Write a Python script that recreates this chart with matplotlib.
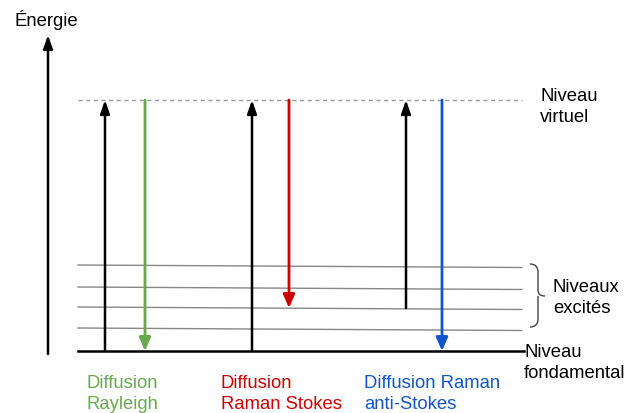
import matplotlib.pyplot as plt
from matplotlib.path import Path
from matplotlib.patches import PathPatch

plt.rcParams['font.family'] = ['Liberation Sans', 'DejaVu Sans']

# energy levels, in picture rows (top = 0)
virtual_level = 101
excited_levels = [267, 289, 309, 330]
ground_level = 352
level_x = (78, 522)

# transitions: (x, start level, end level, colour)
up_arrows = [(105, ground_level, virtual_level),
             (252, ground_level, virtual_level),
             (406, excited_levels[2], virtual_level)]
down_arrows = [(145, virtual_level, ground_level, '#6aa84f'),
               (289, virtual_level, excited_levels[2], '#cc0000'),
               (442, virtual_level, ground_level, '#1155cc')]

bottom_labels = ['Diffusion\nRayleigh', 'Diffusion\nRaman Stokes', 'Diffusion Raman\nanti-Stokes']
bottom_x = [86, 221, 364]
bottom_colors = ['#6aa84f', '#cc0000', '#1155cc']

fs = 13.3
ls = 1.3

fig = plt.figure(figsize=(6.42, 4.14), dpi=100)
ax = fig.add_axes([0, 0, 1, 1])
ax.set_xlim(0, 642)
ax.set_ylim(414, 0)
ax.axis('off')

# energy axis
ax.annotate('', xy=(48, 36), xytext=(48, 355),
            arrowprops=dict(arrowstyle='-|>,head_length=0.8,head_width=0.28',
                            color='black', lw=1.8, shrinkA=0, shrinkB=0))
ax.text(14, 20, 'Énergie', fontsize=fs, va='center', ha='left')

# levels
ax.plot(level_x, [virtual_level] * 2, color='#999999', lw=1, ls=(0, (3, 2.5)))
for y in excited_levels:
    ax.plot(level_x, [y - 1, y + 1.5], color='#888888', lw=1)
ax.plot((level_x[0], 524), [ground_level] * 2, color='black', lw=1.8)

for x, y0, y1 in up_arrows:
    ax.annotate('', xy=(x, y1), xytext=(x, y0),
                arrowprops=dict(arrowstyle='-|>,head_length=0.8,head_width=0.28',
                                color='black', lw=1.8, shrinkA=0, shrinkB=0))
for x, y0, y1, c in down_arrows:
    ax.annotate('', xy=(x, y1), xytext=(x, y0),
                arrowprops=dict(arrowstyle='-|>,head_length=0.8,head_width=0.35',
                                color=c, lw=2, shrinkA=0, shrinkB=0))

# right side labels
ax.text(540, 107, 'Niveau\nvirtuel', fontsize=fs, va='center', ha='left', linespacing=ls)
ax.text(553, 298, 'Niveaux\nexcités', fontsize=fs, va='center', ha='left', linespacing=ls)
ax.text(524, 363, 'Niveau\nfondamental', fontsize=fs, va='center', ha='left', linespacing=ls)

# brace
top, bot, mid = 265, 328, 297
xb, xm, xt = 530, 538, 545
codes = [Path.MOVETO, Path.CURVE3, Path.CURVE3, Path.LINETO,
         Path.CURVE3, Path.CURVE3, Path.MOVETO, Path.LINETO,
         Path.LINETO, Path.CURVE3, Path.CURVE3]
verts = [(xb, top), (xm, top), (xm, top + 8), (xm, mid - 6),
         (xm, mid), (xt, mid),
         (xm, mid), (xm, mid + 6), (xm, bot - 8), (xm, bot), (xb, bot)]
ax.add_patch(PathPatch(Path(verts, codes), fill=False, color='#444444', lw=1))

# bottom labels
for label, x, c in zip(bottom_labels, bottom_x, bottom_colors):
    ax.text(x, 394, label, color=c, fontsize=fs, va='center', ha='left', linespacing=ls)

fig.savefig('out.png', dpi=100)
